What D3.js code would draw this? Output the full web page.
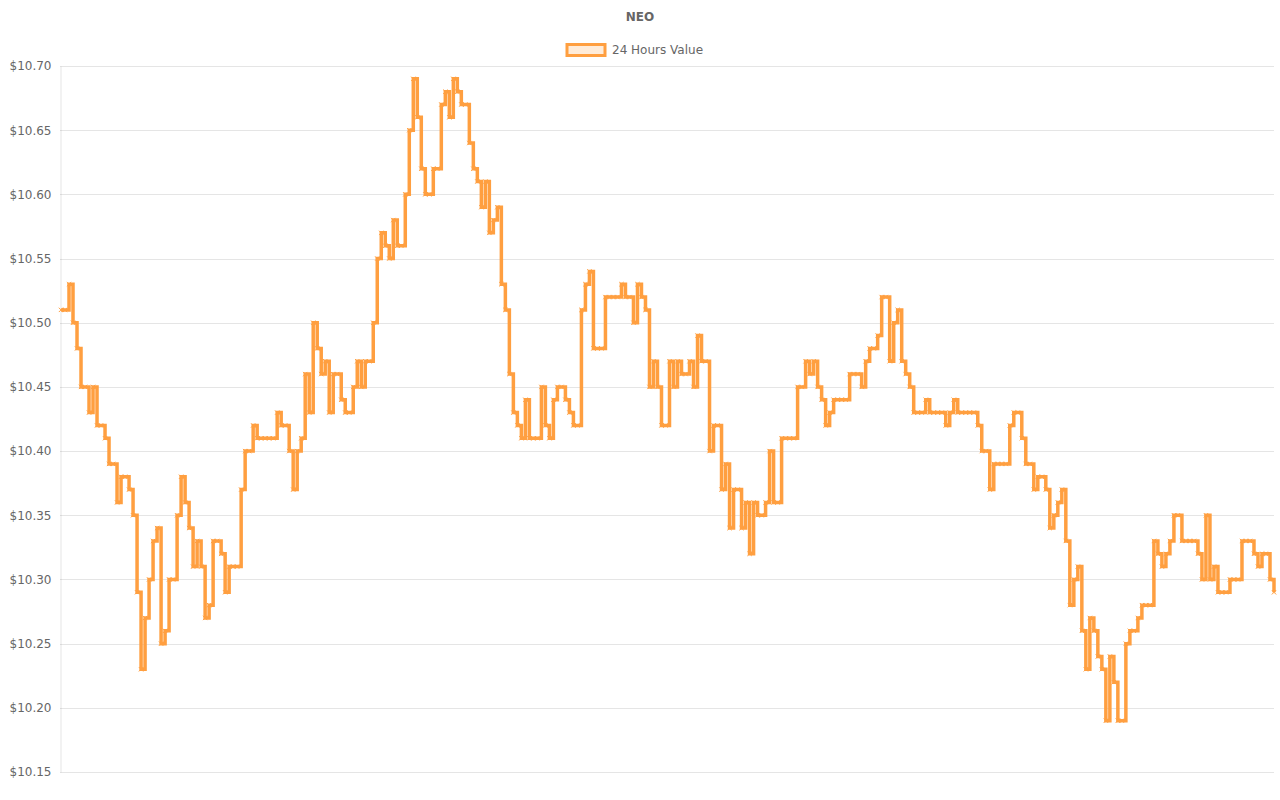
<!DOCTYPE html>
<html>
<head>
<meta charset="utf-8">
<script src="https://cdn.jsdelivr.net/npm/d3@7/dist/d3.min.js"></script>
<style>
  html, body { margin: 0; padding: 0; background: #fff; }
  svg { display: block; font-family: "DejaVu Sans", sans-serif; }
</style>
</head>
<body>
<svg id="chart" width="1280" height="800"></svg>
<script>
const chartTitle = "NEO";
const seriesName = "24 Hours Value";
const yTicks = [10.15, 10.20, 10.25, 10.30, 10.35, 10.40, 10.45, 10.50, 10.55, 10.60, 10.65, 10.70];
const values = [
  10.51, 10.51, 10.53, 10.50, 10.48, 10.45, 10.45, 10.43, 10.45, 10.42,
  10.42, 10.41, 10.39, 10.39, 10.36, 10.38, 10.38, 10.37, 10.35, 10.29,
  10.23, 10.27, 10.30, 10.33, 10.34, 10.25, 10.26, 10.30, 10.30, 10.35,
  10.38, 10.36, 10.34, 10.31, 10.33, 10.31, 10.27, 10.28, 10.33, 10.33,
  10.32, 10.29, 10.31, 10.31, 10.31, 10.37, 10.40, 10.40, 10.42, 10.41,
  10.41, 10.41, 10.41, 10.41, 10.43, 10.42, 10.42, 10.40, 10.37, 10.40,
  10.41, 10.46, 10.43, 10.50, 10.48, 10.46, 10.47, 10.43, 10.46, 10.46,
  10.44, 10.43, 10.43, 10.45, 10.47, 10.45, 10.47, 10.47, 10.50, 10.55,
  10.57, 10.56, 10.55, 10.58, 10.56, 10.56, 10.60, 10.65, 10.69, 10.66,
  10.62, 10.60, 10.60, 10.62, 10.62, 10.67, 10.68, 10.66, 10.69, 10.68,
  10.67, 10.67, 10.64, 10.62, 10.61, 10.59, 10.61, 10.57, 10.58, 10.59,
  10.53, 10.51, 10.46, 10.43, 10.42, 10.41, 10.44, 10.41, 10.41, 10.41,
  10.45, 10.42, 10.41, 10.44, 10.45, 10.45, 10.44, 10.43, 10.42, 10.42,
  10.51, 10.53, 10.54, 10.48, 10.48, 10.48, 10.52, 10.52, 10.52, 10.52,
  10.53, 10.52, 10.52, 10.50, 10.53, 10.52, 10.51, 10.45, 10.47, 10.45,
  10.42, 10.42, 10.47, 10.45, 10.47, 10.46, 10.46, 10.47, 10.45, 10.49,
  10.47, 10.47, 10.40, 10.42, 10.42, 10.37, 10.39, 10.34, 10.37, 10.37,
  10.34, 10.36, 10.32, 10.36, 10.35, 10.35, 10.36, 10.40, 10.36, 10.36,
  10.41, 10.41, 10.41, 10.41, 10.45, 10.45, 10.47, 10.46, 10.47, 10.45,
  10.44, 10.42, 10.43, 10.44, 10.44, 10.44, 10.44, 10.46, 10.46, 10.46,
  10.45, 10.47, 10.48, 10.48, 10.49, 10.52, 10.52, 10.47, 10.50, 10.51,
  10.47, 10.46, 10.45, 10.43, 10.43, 10.43, 10.44, 10.43, 10.43, 10.43,
  10.43, 10.42, 10.43, 10.44, 10.43, 10.43, 10.43, 10.43, 10.43, 10.42,
  10.40, 10.40, 10.37, 10.39, 10.39, 10.39, 10.39, 10.42, 10.43, 10.43,
  10.41, 10.39, 10.39, 10.37, 10.38, 10.38, 10.37, 10.34, 10.35, 10.36,
  10.37, 10.33, 10.28, 10.30, 10.31, 10.26, 10.23, 10.27, 10.26, 10.24,
  10.23, 10.19, 10.24, 10.22, 10.19, 10.19, 10.25, 10.26, 10.26, 10.27,
  10.28, 10.28, 10.28, 10.33, 10.32, 10.31, 10.32, 10.33, 10.35, 10.35,
  10.33, 10.33, 10.33, 10.33, 10.32, 10.30, 10.35, 10.30, 10.31, 10.29,
  10.29, 10.29, 10.30, 10.30, 10.30, 10.33, 10.33, 10.33, 10.32, 10.31,
  10.32, 10.32, 10.30, 10.29
];

const color = "#ff9f40";
const textColor = "#666";
const gridColor = "rgba(0,0,0,0.1)";

const svg = d3.select("#chart");
const plotLeft = 61, plotRight = 1274, plotTop = 66, plotBottom = 772;

const x = d3.scalePoint().domain(d3.range(values.length)).range([plotLeft, plotRight]);
const y = d3.scaleLinear().domain([10.15, 10.70]).range([plotBottom, plotTop]);

// Title
svg.append("text")
  .attr("x", 640).attr("y", 21)
  .attr("text-anchor", "middle")
  .attr("font-size", 12).attr("font-weight", "bold")
  .attr("fill", textColor)
  .text(chartTitle);

// Legend
const lg = svg.append("g");
lg.append("rect")
  .attr("x", 567).attr("y", 44.5).attr("width", 38).attr("height", 11)
  .attr("fill", "rgba(255,159,64,0.2)")
  .attr("stroke", color).attr("stroke-width", 3);
lg.append("text")
  .attr("x", 612).attr("y", 54)
  .attr("font-size", 12).attr("fill", textColor)
  .text(seriesName);

// Y axis
const yAxis = d3.axisLeft(y)
  .tickValues(yTicks)
  .tickSize(0)
  .tickPadding(9)
  .tickFormat(d => "$" + d.toFixed(2));
const ag = svg.append("g").attr("transform", `translate(${plotLeft - 0.5},0)`).call(yAxis);
ag.select(".domain").attr("stroke", gridColor);
ag.selectAll("text").attr("font-size", 12).attr("fill", textColor).attr("font-family", "DejaVu Sans, sans-serif");

// Grid
svg.append("g").selectAll("line")
  .data(yTicks)
  .join("line")
  .attr("x1", plotLeft - 1).attr("x2", plotRight)
  .attr("y1", d => Math.round(y(d)) + 0.5).attr("y2", d => Math.round(y(d)) + 0.5)
  .attr("stroke", gridColor).attr("stroke-width", 1);

// Line
const line = d3.line()
  .x((d, i) => x(i))
  .y(d => y(d))
  .curve(d3.curveStepAfter);

svg.append("path")
  .datum(values)
  .attr("d", line)
  .attr("fill", "none")
  .attr("stroke", color)
  .attr("stroke-width", 3.5)
  .attr("stroke-linejoin", "miter");

// Point markers
const sym = d3.symbol().type(d3.symbolX).size(14);
svg.append("g").selectAll("path")
  .data(values)
  .join("path")
  .attr("transform", (d, i) => `translate(${x(i)},${y(d)})`)
  .attr("d", sym)
  .attr("fill", "none")
  .attr("stroke", color)
  .attr("stroke-width", 1);
</script>
</body>
</html>
